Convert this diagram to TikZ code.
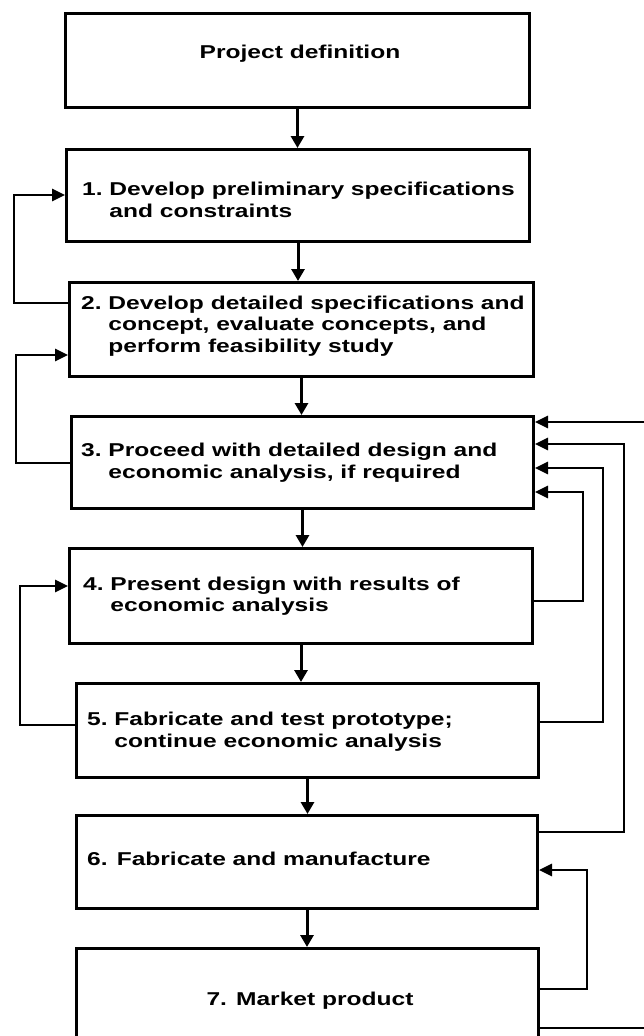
\documentclass[tikz,border=0pt]{standalone}
\usepackage{fontspec}
\setmainfont{Liberation Sans}[FakeStretch=1.32]
\usetikzlibrary{arrows.meta}

\begin{document}
\begin{tikzpicture}[
    x=1pt, y=-1pt,
    stage/.style={draw, line width=3pt, inner sep=0pt, anchor=north west},
    caption/.style={inner sep=0pt, font=\bfseries\fontsize{18.6}{21.5}\selectfont},
    flow/.style={line width=3pt, -{Triangle[length=12pt,width=13pt]}},
    back/.style={line width=2.8pt, -{Triangle[length=13pt,width=12pt]}}
]

\useasboundingbox (0,0) rectangle (643,1036);

% -------------------------------------------------
% Stages (boxes)
% -------------------------------------------------

\node[stage, minimum width=464pt, minimum height=94pt] (B0) at (64,12)  {};
\node[stage, minimum width=463pt, minimum height=92pt] (B1) at (65,148) {};
\node[stage, minimum width=464pt, minimum height=94pt] (B2) at (68,281) {};
\node[stage, minimum width=462pt, minimum height=92pt] (B3) at (70,415) {};
\node[stage, minimum width=463pt, minimum height=95pt] (B4) at (68,547) {};
\node[stage, minimum width=462pt, minimum height=94pt] (B5) at (75,682) {};
\node[stage, minimum width=461pt, minimum height=93pt] (B6) at (75,814) {};
\node[stage, minimum width=462pt, minimum height=93pt] (B7) at (75,947) {};

% -------------------------------------------------
% Texts of the stages
% -------------------------------------------------

\node[caption, anchor=base] (T0) at (300,58) {Project definition};

\node[caption, anchor=base west] (T1) at (82,195.5)
  {\begin{tabular}[t]{@{}l@{\ }l@{}}1. & Develop preliminary specifications\\
   & and constraints\end{tabular}};

\node[caption, anchor=base west] (T2) at (81,309)
  {\begin{tabular}[t]{@{}l@{\ }l@{}}2. & Develop detailed specifications and\\
   & concept, evaluate concepts, and\\
   & perform feasibility study\end{tabular}};

\node[caption, anchor=base west] (T3) at (81,456.5)
  {\begin{tabular}[t]{@{}l@{\ }l@{}}3. & Proceed with detailed design and\\
   & economic analysis, if required\end{tabular}};

\node[caption, anchor=base west] (T4) at (83,590)
  {\begin{tabular}[t]{@{}l@{\ }l@{}}4. & Present design with results of\\
   & economic analysis\end{tabular}};

\node[caption, anchor=base west] (T5) at (87,725.5)
  {\begin{tabular}[t]{@{}l@{\ }l@{}}5. & Fabricate and test prototype;\\
   & continue economic analysis\end{tabular}};

\node[caption, anchor=base west] (T6) at (87,865) {6. Fabricate and manufacture};

\node[caption, anchor=base] (T7) at (310,1005) {7. Market product};

% -------------------------------------------------
% Main flow downwards
% -------------------------------------------------

\draw[flow] (B0.south) -- (B0.south |- B1.north);
\draw[flow] (B1.south) -- (B1.south |- B2.north);
\draw[flow] (B2.south) -- (B2.south |- B3.north);
\draw[flow] (B3.south) -- (B3.south |- B4.north);
\draw[flow] (B4.south) -- (B4.south |- B5.north);
\draw[flow] (B5.south) -- (B5.south |- B6.north);
\draw[flow] (B6.south) -- (B6.south |- B7.north);

% -------------------------------------------------
% Feedback on the left
% -------------------------------------------------

\coordinate (L1a) at (14,303);
\coordinate (L1b) at (14,195);
\coordinate (L2a) at (16,463);
\coordinate (L2b) at (16,355);
\coordinate (L3a) at (20,725);
\coordinate (L3b) at (20,586);

\draw[back] (B2.west |- L1a) -- (L1a) -- (L1b) -- (B1.west |- L1b);
\draw[back] (B3.west |- L2a) -- (L2a) -- (L2b) -- (B2.west |- L2b);
\draw[back] (B5.west |- L3a) -- (L3a) -- (L3b) -- (B4.west |- L3b);

% -------------------------------------------------
% Feedback on the right
% -------------------------------------------------

\coordinate (R1a) at (652,1028);
\coordinate (R1b) at (652,422);
\coordinate (R2a) at (624,832);
\coordinate (R2b) at (624,444);
\coordinate (R3a) at (603,722);
\coordinate (R3b) at (603,468);
\coordinate (R4a) at (583,601);
\coordinate (R4b) at (583,492);
\coordinate (R5a) at (587,989);
\coordinate (R5b) at (587,870);

\draw[back] (B7.east |- R1a) -- (R1a) -- (R1b) -- (B3.east |- R1b);
\draw[back] (B6.east |- R2a) -- (R2a) -- (R2b) -- (B3.east |- R2b);
\draw[back] (B5.east |- R3a) -- (R3a) -- (R3b) -- (B3.east |- R3b);
\draw[back] (B4.east |- R4a) -- (R4a) -- (R4b) -- (B3.east |- R4b);
\draw[back] (B7.east |- R5a) -- (R5a) -- (R5b) -- (B6.east |- R5b);

\end{tikzpicture}
\end{document}
